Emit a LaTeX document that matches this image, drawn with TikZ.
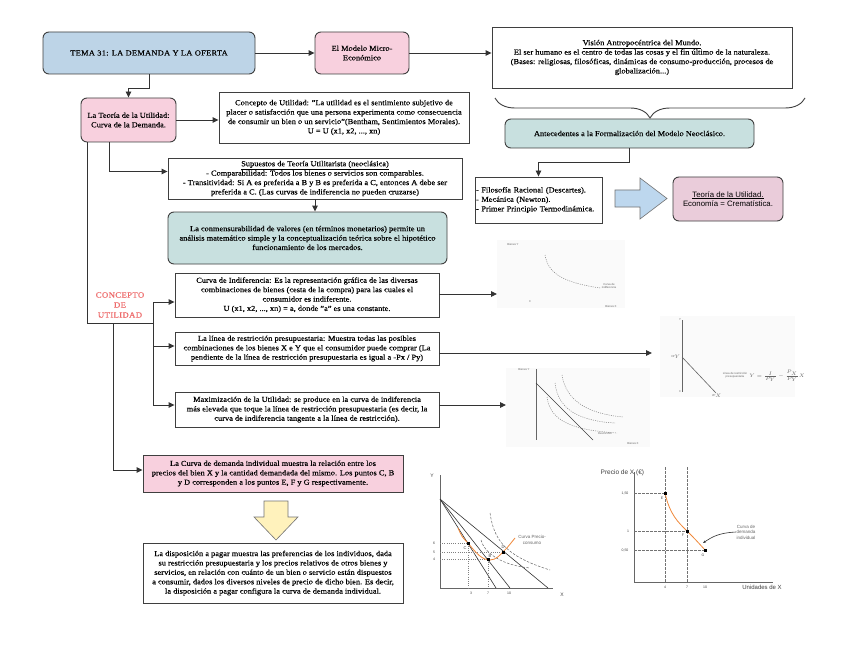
\documentclass[tikz,border=0pt]{standalone}
\usepackage{fontspec}
\setmainfont{Liberation Serif}[FakeStretch=1.1, FakeBold=0.4]
\newfontfamily\gsans{Liberation Sans}
\usetikzlibrary{arrows.meta,decorations.pathreplacing}
\definecolor{tblue}{HTML}{BDD4E7}
\definecolor{tpink}{HTML}{F8D0DE}
\definecolor{tteal}{HTML}{C8E0DF}
\definecolor{tmauve}{HTML}{EACCDA}
\definecolor{bordc}{HTML}{3F3F3F}
\definecolor{linec}{HTML}{333333}
\definecolor{tred}{HTML}{EE6A6A}
\definecolor{torange}{HTML}{F0883A}
\definecolor{ablue}{HTML}{BDD7EE}
\definecolor{ayellow}{HTML}{FFF2BC}
\begin{document}
\begin{tikzpicture}[x=1pt,y=-1pt,
 box/.style={draw=bordc, line width=0.9pt, align=center, font=\fontsize{7.6}{9.4}\selectfont, inner sep=0.5pt},
 rbox/.style={box, rounded corners=6pt},
 arr/.style={draw=linec, line width=0.9pt, -{Triangle[length=6pt,width=5.5pt]}},
 ln/.style={draw=linec, line width=0.9pt},
 gax/.style={draw=black!60, line width=0.7pt},
 gdot/.style={draw=black!50, line width=0.5pt, dash pattern=on 1pt off 1.2pt},
 gdash/.style={draw=black!60, line width=0.5pt, dash pattern=on 2.5pt off 1.5pt},
 gtxt/.style={font=\gsans\fontsize{2.8}{3.2}\selectfont, text=black!60, inner sep=0.5pt, align=center},
 lab/.style={font=\gsans\fontsize{5}{6}\selectfont, text=black!75, inner sep=0.5pt, align=center},
 pt/.style={fill=black, minimum size=3pt, inner sep=0pt},
]
\useasboundingbox (0,0) rectangle (848,655);
\fill[white] (0,0) rectangle (848,655);

% ---------- main nodes ----------
\node[rbox, fill=tblue, minimum width=212, minimum height=42, font=\fontsize{7.6}{9.4}\selectfont\addfontfeature{LetterSpace=4}] (tema) at (149,53) {TEMA 31: LA DEMANDA Y LA OFERTA};
\node[rbox, fill=tpink, minimum width=94, minimum height=42] (micro) at (362,53) {El Modelo Micro-\\Económico};
\node[box, fill=white, minimum width=300, minimum height=61] (vision) at (642,57.5) {\underline{Visión Antropocéntrica del Mundo.}\\El ser humano es el centro de todas las cosas y el fin último de la naturaleza.\\(Bases: religiosas, filosóficas, dinámicas de consumo-producción, procesos de\\globalización...)};
\node[rbox, fill=tpink, minimum width=95, minimum height=44] (teoria) at (128.5,120) {La Teoría de la Utilidad:\\Curva de la Demanda.};
\node[box, fill=white, minimum width=250, minimum height=51] (concepto) at (344,117.5) {Concepto de Utilidad: "La utilidad es el sentimiento subjetivo de\\placer o satisfacción que una persona experimenta como consecuencia\\de consumir un bien o un servicio"(Bentham, Sentimientos Morales).\\U = U (x1, x2, ..., xn)};
\node[box, fill=white, minimum width=294, minimum height=41] (supuestos) at (315,178.5) {\underline{Supuestos de Teoría Utilitarista (neoclásica)}\\- Comparabilidad: Todos los bienes o servicios son comparables.\\- Transitividad: Si A es preferida a B y B es preferida a C, entonces A debe ser\\preferida a C. (Las curvas de indiferencia no pueden cruzarse)};
\node[rbox, fill=tteal, minimum width=279, minimum height=52] (conmen) at (307.5,238) {La conmensurabilidad de valores (en términos monetarios) permite un\\análisis matemático simple y la conceptualización teórica sobre el hipotético\\funcionamiento de los mercados.};
\node[rbox, fill=tteal, minimum width=249, minimum height=29] (antec) at (629.5,133.5) {Antecedentes a la Formalización del Modelo Neoclásico.};
\node[box, fill=white, minimum width=127, minimum height=46, align=left, text width=125] (lista) at (538.5,200) {- Filosofía Racional (Descartes).\\- Mecánica (Newton).\\- Primer Principio Termodinámica.};
\node[rbox, fill=tmauve, minimum width=110, minimum height=44, font=\gsans\fontsize{7.8}{9.6}\selectfont] (teoriau) at (728,199) {\underline{Teoría de la Utilidad.}\\Economía = Crematística.};
\node[box, fill=white, minimum width=264, minimum height=44] (curvaind) at (307,295) {Curva de Indiferencia: Es la representación gráfica de las diversas\\combinaciones de bienes (cesta de la compra) para las cuales el\\consumidor es indiferente.\\U (x1, x2, ..., xn) = a, donde "a" es una constante.};
\node[box, fill=white, minimum width=264, minimum height=33] (linea) at (307,348.5) {La línea de restricción presupuestaria: Muestra todas las posibles\\combinaciones de los bienes X e Y que el consumidor puede comprar (La\\pendiente de la línea de restricción presupuestaria es igual a -Px / Py)};
\node[box, fill=white, minimum width=264, minimum height=35] (maxu) at (307,409.5) {Maximización de la Utilidad: se produce en la curva de indiferencia\\más elevada que toque la línea de restricción presupuestaria (es decir, la\\curva de indiferencia tangente a la línea de restricción).};
\node[box, fill=tpink, minimum width=260, minimum height=37] (curvadem) at (273,473.5) {La Curva de demanda individual muestra la relación entre los\\precios del bien X y la cantidad demandada del mismo. Los puntos C, B\\y D corresponden a los puntos E, F y G respectivamente.};
\node[box, fill=white, minimum width=260, minimum height=60] (disp) at (273,573) {La disposición a pagar muestra las preferencias de los individuos, dada\\su restricción presupuestaria y los precios relativos de otros bienes y\\servicios, en relación con cuánto de un bien o servicio están dispuestos\\a consumir, dados los diversos niveles de precio de dicho bien. Es decir,\\la disposición a pagar configura la curva de demanda individual.};
\node[font=\fontsize{8}{10}\selectfont\addfontfeature{LetterSpace=4}, text=tred, align=center, inner sep=0pt] (concut) at (120,305) {CONCEPTO\\DE\\UTILIDAD};

% ---------- connectors ----------
\draw[arr] (tema.east) -- (micro.west);
\draw[arr] (micro.east) -- (micro.east -| vision.west);
\draw[arr] (tema.south) -- ++(0,14) -| (teoria.north);
\draw[arr] (teoria.east) -- (teoria.east -| concepto.west);
\draw[arr] ([xshift=-19.5pt]teoria.south) |- ([yshift=7pt]supuestos.west);
\draw[arr] (supuestos.south) -- (supuestos.south |- conmen.north);
\draw[arr] (antec.south) -- ++(0,14) -| (lista.north);
\draw[decorate, decoration={brace, amplitude=20pt}, draw=bordc, line width=0.9pt] (805,98) -- (495,98);

\coordinate (j1) at (153,323);
\coordinate (j2) at (113,323);
\draw[ln] ([xshift=7pt]teoria.south west) |- (j1);
\draw[arr] (j1) |- ([yshift=-7pt]curvaind.west);
\draw[arr] (j1) |- ([yshift=2.5pt]linea.west);
\draw[arr] (j1) |- ([yshift=4.5pt]maxu.west);
\draw[arr] (j2) |- ([yshift=3.5pt]curvadem.west);

% ---------- graph pictures (top right) ----------
\fill[black!2] (497,240) rectangle (625,308);
\fill[black!2] (660,316) rectangle (795,397);
\fill[black!2] (506,368) rectangle (650,447);
\coordinate (g1) at (497,294);
\coordinate (g2) at (652,353);
\coordinate (g3) at (506,405);
\draw[arr] (curvaind.east |- g1) -- (g1);
\draw[arr] (linea.east |- g2) -- (g2);
\draw[arr] (maxu.east |- g3) -- (g3);

% graph 1: indifference curve
\draw[gdot] (545,255) .. controls (548,272) and (560,282) .. (600,288);
\node[gtxt] at (513,244) {Bienes Y};
\node[gtxt] at (609,286) {Curva de\\indiferencia};
\node[gtxt] at (611,306) {Bienes X};
\node[gtxt] at (530,302) {0};

% graph 2: budget line
\draw[gax] (682,320) -- (682,392);
\draw[draw=black!60, line width=0.6pt] (682,357) -- (716,393);
\node[gtxt] at (676,357) {I/P$_Y$};
\node[gtxt] at (680,320) {Y};
\node[gtxt] at (680,392) {0};
\node[gtxt] at (717,396) {I/P$_X$};
\node[gtxt] at (735,375) {Línea de restricción\\presupuestaria};
\node[gtxt, font=\gsans\fontsize{3.2}{3.6}\selectfont] at (777,376) {$Y=\frac{I}{P_Y}-\frac{P_X}{P_Y}X$};

% graph 3: maximization
\draw[gax] (536,369) -- (536,440);
\draw[draw=black!75, line width=0.6pt] (536,383) -- (593,440);
\draw[gdot] (547,397) .. controls (550,420) and (570,430) .. (617,433);
\draw[gdot] (555,383) .. controls (558,410) and (580,421) .. (615,423);
\draw[gdot] (562,375) .. controls (566,402) and (590,414) .. (623,417);
\node[gtxt] at (524,369) {Bienes Y};
\node[gtxt] at (605,433) {Restricción};
\node[gtxt] at (633,443) {Bienes X};

% ---------- bottom graph 1 ----------
\draw[gax] (440,475) -- (440,588) -- (553,588);
\node[lab] at (432,476) {Y};
\node[lab] at (562,595) {X};
\draw[draw=black!80, line width=0.6pt] (440,499) -- (548,588);
\draw[draw=black!80, line width=0.6pt] (440,499) -- (510,588);
\draw[draw=black!80, line width=0.6pt] (440,499) -- (496,588);
\draw[gdot] (440,543) -- (468,543) -- (468,588);
\draw[gdot] (440,552) -- (503,552);
\draw[gdot] (440,559) -- (488,559) -- (488,588);
\draw[gdash] (490,513) .. controls (494,540) and (505,556) .. (550,570);
\draw[gdash] (481,540) .. controls (484,552) and (500,565) .. (530,568);
\draw[draw=torange, line width=0.8pt] (458,528) .. controls (462,537) .. (468,543) .. controls (476,553) and (482,560) .. (490,560) .. controls (496,560) and (500,555) .. (503,552) .. controls (507,548) .. (515,538);
\node[pt] at (468,543) {};
\node[pt] at (488,559) {};
\node[pt] at (503,552) {};
\node[lab, font=\gsans\fontsize{4}{5}\selectfont] at (465,548) {C};
\node[lab, font=\gsans\fontsize{4}{5}\selectfont] at (490,556) {B};
\node[lab, font=\gsans\fontsize{4}{5}\selectfont] at (503,547) {D};
\node[lab, font=\gsans\fontsize{3.5}{4}\selectfont] at (434,543) {6};
\node[lab, font=\gsans\fontsize{3.5}{4}\selectfont] at (434,552) {5};
\node[lab, font=\gsans\fontsize{3.5}{4}\selectfont] at (434,559) {4};
\node[lab, font=\gsans\fontsize{3.5}{4}\selectfont] at (471,593) {3};
\node[lab, font=\gsans\fontsize{3.5}{4}\selectfont] at (488,593) {7};
\node[lab, font=\gsans\fontsize{3.5}{4}\selectfont] at (509,593) {10};
\node[lab, font=\gsans\fontsize{4.5}{5.5}\selectfont, text=black!60] at (532,540) {Curva Precio-\\consumo};

% ---------- bottom graph 2 ----------
\draw[gax] (634,472) -- (634,582) -- (773,582);
\node[lab, font=\gsans\fontsize{6.5}{7.5}\selectfont, anchor=west] at (600,473) {Precio de X (€)};
\node[lab, font=\gsans\fontsize{6}{7}\selectfont] at (762,587) {Unidades de X};
\draw[gdash, draw=black!55] (665,467) -- (665,582);
\draw[gdash, draw=black!55] (687,467) -- (687,582);
\draw[gdash, draw=black!55] (634,493) -- (665,493);
\draw[gdash, draw=black!55] (634,531) -- (687,531);
\draw[gdash, draw=black!55] (634,550) -- (705,550);
\draw[draw=torange, line width=0.8pt] (665,493) .. controls (670,515) and (678,522) .. (687,531) .. controls (695,539) .. (705,550);
\node[pt] at (665,493) {};
\node[pt] at (687,531) {};
\node[pt] at (705,550) {};
\node[lab, font=\gsans\fontsize{3.5}{4}\selectfont] at (662,498) {E};
\node[lab, font=\gsans\fontsize{3.5}{4}\selectfont] at (683,535) {F};
\node[lab, font=\gsans\fontsize{3.5}{4}\selectfont] at (703,555) {G};
\node[lab, font=\gsans\fontsize{3.5}{4}\selectfont] at (625,493) {1,50};
\node[lab, font=\gsans\fontsize{3.5}{4}\selectfont] at (628,531) {1};
\node[lab, font=\gsans\fontsize{3.5}{4}\selectfont] at (625,550) {0,50};
\node[lab, font=\gsans\fontsize{3.5}{4}\selectfont] at (665,587) {4};
\node[lab, font=\gsans\fontsize{3.5}{4}\selectfont] at (687,587) {7};
\node[lab, font=\gsans\fontsize{3.5}{4}\selectfont] at (705,587) {10};
\node[lab, font=\gsans\fontsize{4.5}{5.5}\selectfont, text=black!60] (cdlab) at (746,532) {Curva de\\demanda\\individual};
\draw[draw=black!80, line width=0.6pt, -{Stealth[length=3pt]}] (cdlab.west) .. controls (718,533) and (712,537) .. (703,543);

% ---------- block arrows ----------
\draw[draw=black!55, fill=ablue, line width=0.6pt] (615,190) -- (640,190) -- (640,178) -- (667,198.5) -- (640,219) -- (640,207) -- (615,207) -- cycle;
\draw[draw=black!55, fill=ayellow, line width=0.6pt] (264,501) -- (288,501) -- (288,517) -- (298,517) -- (276,540) -- (254,517) -- (264,517) -- cycle;
\end{tikzpicture}
\end{document}
